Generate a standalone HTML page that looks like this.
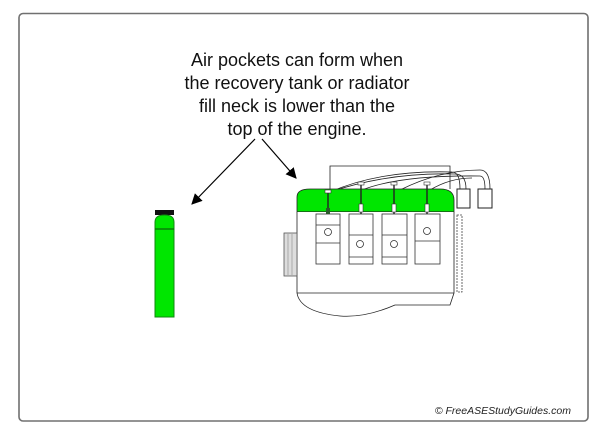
<!DOCTYPE html>
<html><head><meta charset="utf-8"><style>
html,body{margin:0;padding:0;background:#fff;width:605px;height:433px;overflow:hidden}
</style></head><body>
<svg width="605" height="433" viewBox="0 0 605 433" xmlns="http://www.w3.org/2000/svg" font-family="Liberation Sans, sans-serif">
<rect x="19" y="13.5" width="569" height="407.5" rx="4" fill="#fff" stroke="#707070" stroke-width="1.6"/>
<g font-size="18" fill="#111" text-anchor="middle">
<text x="297" y="66">Air pockets can form when</text>
<text x="297" y="89">the recovery tank or radiator</text>
<text x="297" y="112">fill neck is lower than the</text>
<text x="297" y="135">top of the engine.</text>
</g>
<text x="571" y="414" font-size="10.5" font-style="italic" text-anchor="end" fill="#222">© FreeASEStudyGuides.com</text>
<defs><marker id="a" viewBox="0 0 10 10" refX="9" refY="5" markerWidth="9" markerHeight="9" orient="auto"><path d="M0,0 L10,5 L0,10 z" fill="#000"/></marker></defs>
<line x1="255" y1="139" x2="192" y2="204" stroke="#000" stroke-width="1.2" marker-end="url(#a)"/>
<line x1="262" y1="139" x2="296" y2="178" stroke="#000" stroke-width="1.2" marker-end="url(#a)"/>
<!-- tank -->
<rect x="155" y="210" width="19" height="5" fill="#111"/>
<path d="M155,317 V222 Q155,215 164.5,215 Q174,215 174,222 V317 Z" fill="#00e600" stroke="#118811" stroke-width="1"/>
<line x1="155" y1="229" x2="174" y2="229" stroke="#0a6a0a" stroke-width="1.2"/>
<!-- engine -->
<g stroke="#222" stroke-width="0.8" fill="none">
<path d="M330,192 V166 H450 V189"/>
<path d="M330,192 Q380,170 452,172 Q460,172 460,189"/>
<path d="M330,192 Q390,172 455,174 Q466,174 466,189"/>
<path d="M362,190 Q400,175 480,176 Q485,176 485,189"/>
<path d="M400,190 Q440,170 480,170 Q490,170 490,189"/>
<path d="M430,190 Q450,178 472,178"/>
</g>
<path d="M297,212 V197 Q297,189 310,189 H440 Q454,189 454,200 V212 Z" fill="#00e600" stroke="#222" stroke-width="0.8"/>
<line x1="297" y1="212" x2="454" y2="212" stroke="#1a4a1a" stroke-width="1.5"/>
<path d="M297,212 V293 Q300,312 340,316 Q365,318 395,305 H450 L454,293 V212" fill="#fff" stroke="#222" stroke-width="0.8"/>
<line x1="297" y1="293" x2="454" y2="293" stroke="#222" stroke-width="0.8"/>
<rect x="284" y="233" width="13" height="43" fill="#ddd" stroke="#555" stroke-width="0.8"/>
<line x1="288" y1="234" x2="288" y2="275" stroke="#888" stroke-width="0.6"/>
<line x1="292" y1="234" x2="292" y2="275" stroke="#888" stroke-width="0.6"/>
<rect x="457" y="215" width="5" height="77" fill="#fff" stroke="#444" stroke-width="0.8" stroke-dasharray="2,1"/>
<rect x="457" y="189" width="13" height="19" fill="#fff" stroke="#222"/>
<rect x="478" y="189" width="14" height="19" fill="#fff" stroke="#222"/>
<g fill="#fff" stroke="#333" stroke-width="0.8">
<rect x="316" y="214" width="24" height="50"/><line x1="316" y1="225" x2="340" y2="225"/><line x1="316" y1="243" x2="340" y2="243"/><circle cx="328" cy="232" r="3.5"/>
<rect x="349" y="214" width="24" height="50"/><line x1="349" y1="235" x2="373" y2="235"/><line x1="349" y1="257" x2="373" y2="257"/><circle cx="360" cy="244" r="3.5"/>
<rect x="382" y="214" width="25" height="50"/><line x1="382" y1="235" x2="407" y2="235"/><line x1="382" y1="257" x2="407" y2="257"/><circle cx="394" cy="244" r="3.5"/>
<rect x="415" y="214" width="25" height="50"/><line x1="415" y1="241" x2="440" y2="241"/><circle cx="427" cy="231" r="3.5"/>
</g>
<g stroke="#222" stroke-width="1.4">
<line x1="328" y1="192" x2="328" y2="214"/><line x1="361" y1="184" x2="361" y2="214"/><line x1="394" y1="184" x2="394" y2="214"/><line x1="427" y1="184" x2="427" y2="214"/>
</g>
<g fill="#fff" stroke="#333" stroke-width="0.6">
<rect x="325" y="190" width="6" height="3"/><rect x="358" y="182" width="6" height="3"/><rect x="391" y="182" width="6" height="3"/><rect x="424" y="182" width="6" height="3"/>
<rect x="359" y="204" width="4" height="8"/><rect x="392" y="204" width="4" height="8"/><rect x="425" y="204" width="4" height="8"/>
</g>
<rect x="326" y="208" width="4" height="6" fill="#2a5a2a"/>
</svg>
</body></html>
